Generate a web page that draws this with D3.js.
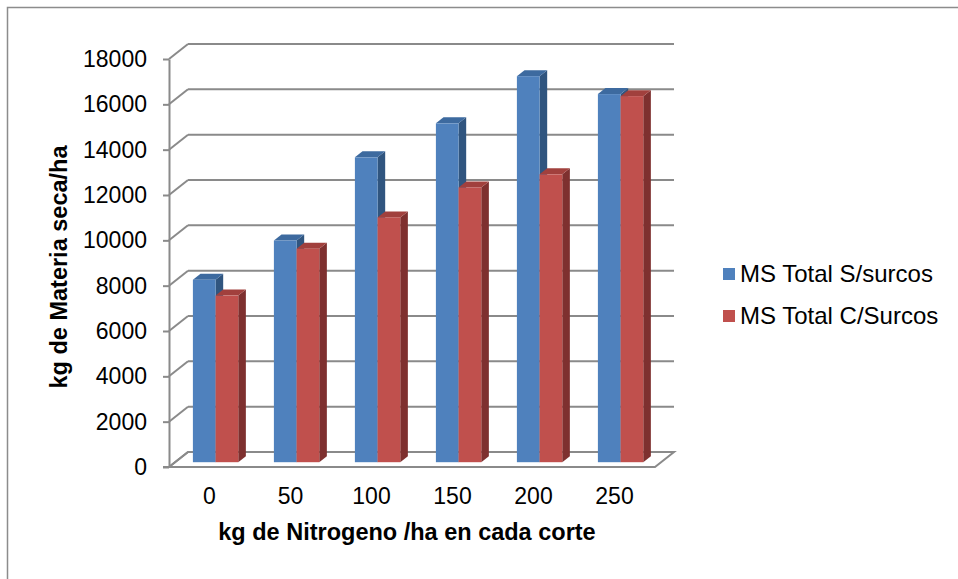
<!DOCTYPE html>
<html>
<head>
<meta charset="utf-8">
<script src="https://cdn.jsdelivr.net/npm/d3@7"></script>
<style>
  body { margin: 0; background: #fff; }
  svg { display: block; font-family: "Liberation Sans", Arial, sans-serif; }
</style>
</head>
<body>
<svg id="chart"></svg>
<script>
// data
const categories = ['0', '50', '100', '150', '200', '250'];
const seriesNames = ['MS Total S/surcos', 'MS Total C/Surcos'];
const sinSurcos = [8050, 9780, 13450, 14950, 17030, 16240];
const conSurcos = [7350, 9420, 10800, 12120, 12700, 16150];
const yTicks = [0, 2000, 4000, 6000, 8000, 10000, 12000, 14000, 16000, 18000];

const width = 958;
const height = 579;

// oblique 3d: full depth of the box moves a point by (depthX, depthY)
const depthX = 19;
const depthY = -15;
const barFront = 0.32;
const barBack = 0.72;

const colors = [
  { front: '#4F81BD', top: '#3D6A9F', side: '#30557F' },
  { front: '#C0504D', top: '#A1403D', side: '#7E302F' }
];

const svg = d3.select('#chart')
  .attr('width', width)
  .attr('height', height);

// chart border (runs past the window on right and bottom)
svg.append('path')
  .attr('d', `M7.5,${height + 5} V7.5 H${width + 5}`)
  .attr('fill', 'none')
  .attr('stroke', '#8c8c8c')
  .attr('stroke-width', 1.5);

const xScale = d3.scaleBand()
  .domain(categories)
  .range([169, 655])
  .paddingInner(0.44)
  .paddingOuter(0.22);

const xInner = d3.scaleBand()
  .domain(seriesNames)
  .range([0, xScale.bandwidth()]);

const yScale = d3.scaleLinear()
  .domain([0, 18000])
  .range([467, 59]);

const gridColor = '#8a8a8a';
const x0 = xScale.range()[0];
const x1 = xScale.range()[1];

// floor
svg.append('path')
  .attr('d', `M${x0},467 L${x1},467 L${x1 + depthX},${467 + depthY} L${x0 + depthX},${467 + depthY} Z`)
  .attr('fill', '#fff')
  .attr('stroke', gridColor)
  .attr('stroke-width', 2);

// back wall gridlines and side wall diagonals
const grid = svg.append('g');
grid.selectAll('.hline')
  .data(yTicks)
  .enter()
  .append('line')
  .attr('x1', x0 + depthX)
  .attr('x2', x1 + depthX)
  .attr('y1', d => yScale(d) + depthY)
  .attr('y2', d => yScale(d) + depthY)
  .attr('stroke', gridColor)
  .attr('stroke-width', 2);

grid.selectAll('.diag')
  .data(yTicks)
  .enter()
  .append('line')
  .attr('x1', x0)
  .attr('x2', x0 + depthX)
  .attr('y1', d => yScale(d))
  .attr('y2', d => yScale(d) + depthY)
  .attr('stroke', gridColor)
  .attr('stroke-width', 2);

// front floor edge sticks out past the axis
svg.append('line')
  .attr('x1', x0 - 6)
  .attr('x2', x1)
  .attr('y1', 467)
  .attr('y2', 467)
  .attr('stroke', gridColor)
  .attr('stroke-width', 2);

// y axis
const yAxis = d3.axisLeft(yScale)
  .tickValues(yTicks)
  .tickSize(6)
  .tickSizeOuter(0)
  .tickPadding(16)
  .tickFormat(d3.format('d'));

const yG = svg.append('g')
  .attr('transform', `translate(${x0}, 0)`)
  .call(yAxis);

yG.select('.domain').attr('stroke', gridColor).attr('stroke-width', 2);
yG.selectAll('.tick line').attr('stroke', gridColor).attr('stroke-width', 2);
yG.selectAll('.tick text')
  .attr('font-size', 23)
  .attr('font-family', '"Liberation Sans", Arial, sans-serif')
  .attr('fill', '#000');

// bars
const rows = categories.map((c, i) => ({ cat: c, values: [sinSurcos[i], conSurcos[i]] }));

const fx = barFront * depthX, fy = barFront * depthY;
const bx = barBack * depthX, by = barBack * depthY;

rows.forEach(row => {
  row.values.forEach((v, s) => {
    const left = xScale(row.cat) + xInner(seriesNames[s]) + fx;
    const right = left + xInner.bandwidth();
    const bottom = yScale(0) + fy;
    const top = yScale(v) + fy;
    const dx = bx - fx, dy = by - fy;
    const c = colors[s];

    svg.append('path')
      .attr('d', `M${right},${bottom} L${right + dx},${bottom + dy} L${right + dx},${top + dy} L${right},${top} Z`)
      .attr('fill', c.side);

    svg.append('path')
      .attr('d', `M${left},${top} L${left + dx},${top + dy} L${right + dx},${top + dy} L${right},${top} Z`)
      .attr('fill', c.top);

    svg.append('rect')
      .attr('x', left)
      .attr('y', top)
      .attr('width', right - left)
      .attr('height', bottom - top)
      .attr('fill', c.front);
  });
});

// category labels
svg.selectAll('.cat')
  .data(categories)
  .enter()
  .append('text')
  .attr('x', d => xScale(d) + xScale.bandwidth() / 2)
  .attr('y', 504)
  .attr('text-anchor', 'middle')
  .attr('font-size', 23)
  .text(d => d);

// axis titles
svg.append('text')
  .attr('x', 407)
  .attr('y', 540)
  .attr('text-anchor', 'middle')
  .attr('font-size', 23.5)
  .attr('font-weight', 'bold')
  .text('kg de Nitrogeno /ha en cada corte');

svg.append('text')
  .attr('transform', 'translate(67, 267) rotate(-90)')
  .attr('text-anchor', 'middle')
  .attr('font-size', 23.5)
  .attr('font-weight', 'bold')
  .text('kg de Materia seca/ha');

// legend
const legend = svg.append('g');
seriesNames.forEach((name, i) => {
  legend.append('rect')
    .attr('x', 723)
    .attr('y', 268 + i * 42)
    .attr('width', 12)
    .attr('height', 12)
    .attr('fill', colors[i].front);
  legend.append('text')
    .attr('x', 740)
    .attr('y', 282 + i * 42)
    .attr('font-size', 24)
    .text(name);
});
</script>
</body>
</html>
